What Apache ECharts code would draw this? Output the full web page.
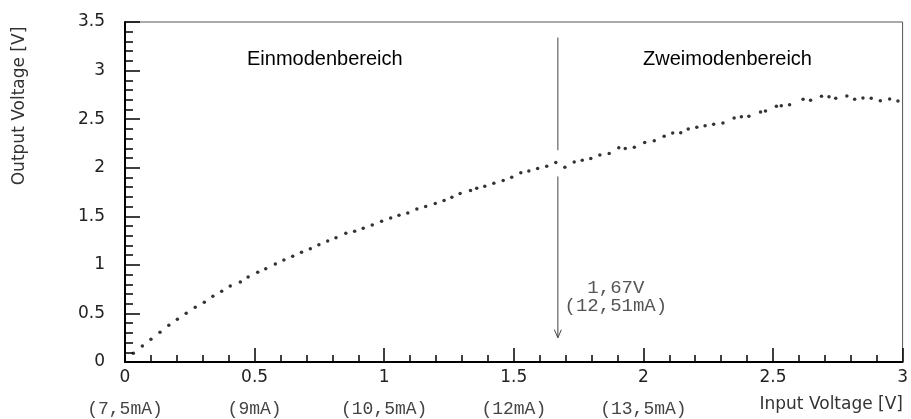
<!DOCTYPE html>
<html>
<head>
<meta charset="utf-8">
<script src="https://cdn.jsdelivr.net/npm/echarts@6/dist/echarts.min.js"></script>
<style>
  html, body { margin: 0; padding: 0; background: #ffffff; }
  #chart { width: 911px; height: 419px; }
</style>
</head>
<body>
<div id="chart"></div>
<script>
// Measured transfer curve: input voltage [V] -> output voltage [V]
const inputVoltage = [
  0.032, 0.067, 0.100, 0.135, 0.169, 0.202, 0.236, 0.271, 0.306, 0.339,
  0.373, 0.406, 0.445, 0.475, 0.512, 0.543, 0.580, 0.613, 0.647, 0.681,
  0.715, 0.748, 0.782, 0.814, 0.852, 0.886, 0.919, 0.954, 0.990, 1.025,
  1.057, 1.091, 1.126, 1.160, 1.197, 1.231, 1.261, 1.293, 1.333, 1.357,
  1.388, 1.423, 1.459, 1.492, 1.527, 1.558, 1.592, 1.627, 1.662, 1.697,
  1.733, 1.764, 1.797, 1.832, 1.868, 1.905, 1.930, 1.965, 2.005, 2.042,
  2.080, 2.113, 2.144, 2.173, 2.206, 2.238, 2.271, 2.307, 2.350, 2.378,
  2.407, 2.452, 2.471, 2.513, 2.532, 2.564, 2.616, 2.645, 2.687, 2.716,
  2.742, 2.785, 2.815, 2.847, 2.879, 2.914, 2.950, 2.982
];
const outputVoltage = [
  0.090, 0.165, 0.234, 0.306, 0.378, 0.440, 0.501, 0.563, 0.615, 0.676,
  0.728, 0.782, 0.824, 0.875, 0.923, 0.960, 1.009, 1.050, 1.088, 1.129,
  1.166, 1.208, 1.246, 1.280, 1.325, 1.346, 1.377, 1.411, 1.449, 1.483,
  1.511, 1.535, 1.576, 1.600, 1.631, 1.662, 1.697, 1.734, 1.765, 1.789,
  1.810, 1.841, 1.868, 1.903, 1.947, 1.965, 1.991, 2.016, 2.054, 2.004,
  2.059, 2.076, 2.095, 2.131, 2.146, 2.205, 2.198, 2.210, 2.260, 2.278,
  2.323, 2.357, 2.359, 2.399, 2.416, 2.432, 2.448, 2.460, 2.512, 2.525,
  2.529, 2.574, 2.584, 2.632, 2.638, 2.649, 2.704, 2.694, 2.735, 2.731,
  2.715, 2.738, 2.704, 2.718, 2.715, 2.690, 2.707, 2.687
];

// Bottom axis: voltage ticks and the matching laser current
const xTickValues = [0, 0.5, 1, 1.5, 2, 2.5, 3];
const currentLabels = ['(7,5mA)', '(9mA)', '(10,5mA)', '(12mA)', '(13,5mA)', '', ''];

// Mode boundary marker
const thresholdVoltage = 1.67;
const thresholdLabel = ['1,67V', '(12,51mA)'];
const arrowUpper = [3.34, 2.18];   // output voltage span above the curve
const arrowLower = [1.91, 0.25];   // output voltage span below the curve

const regionLabels = ['Einmodenbereich', 'Zweimodenbereich'];
const xTitle = 'Input Voltage [V]';
const yTitle = 'Output Voltage [V]';

const points = inputVoltage.map((x, i) => [x, outputVoltage[i]]);

const chart = echarts.init(document.getElementById('chart'), null, { renderer: 'canvas' });

const tickFont = 'DejaVu Sans';
const monoFont = 'Liberation Mono';

chart.setOption({
  animation: false,
  backgroundColor: '#ffffff',
  grid: {
    left: 125, right: 8, top: 22, bottom: 57,
    show: true, borderColor: '#555', borderWidth: 1, backgroundColor: 'transparent'
  },
  xAxis: {
    type: 'value', min: 0, max: 3, interval: 0.5,
    axisLine: { show: true, onZero: false, lineStyle: { color: '#000', width: 2 } },
    axisTick: { show: true, inside: true, length: 14, lineStyle: { color: '#000', width: 1.5 } },
    minorTick: { show: true, splitNumber: 5, length: 7, lineStyle: { color: '#000', width: 1.5 } },
    splitLine: { show: false },
    axisLabel: {
      margin: 0,
      showMinLabel: true, showMaxLabel: true,
      formatter: function (value) {
        const i = xTickValues.findIndex(v => Math.abs(v - value) < 1e-9);
        const cur = i >= 0 ? currentLabels[i] : '';
        return '{v|' + value + '}' + (cur ? '\n{m|' + cur + '}' : '');
      },
      rich: {
        v: { fontFamily: tickFont, fontSize: 17, color: '#222', lineHeight: 31 },
        m: { fontFamily: monoFont, fontSize: 18, color: '#444', lineHeight: 32 }
      }
    }
  },
  yAxis: {
    type: 'value', min: 0, max: 3.5, interval: 0.5,
    axisLine: { show: true, onZero: false, lineStyle: { color: '#000', width: 2 } },
    axisTick: { show: true, inside: true, length: 15, lineStyle: { color: '#000', width: 1.5 } },
    minorTick: { show: true, splitNumber: 5, length: 8, lineStyle: { color: '#000', width: 1.5 } },
    splitLine: { show: false },
    axisLabel: { margin: 20, fontFamily: tickFont, fontSize: 17, color: '#222' }
  },
  graphic: [
    {
      type: 'text', left: 247, top: 49, silent: true,
      style: { text: regionLabels[0], fontFamily: 'Liberation Sans', fontSize: 20, fill: '#000' }
    },
    {
      type: 'text', left: 643, top: 49, silent: true,
      style: { text: regionLabels[1], fontFamily: 'Liberation Sans', fontSize: 20, fill: '#000' }
    },
    {
      type: 'text', x: 903, y: 405, silent: true,
      style: { text: xTitle, fontFamily: tickFont, fontSize: 17, fill: '#333', align: 'right', verticalAlign: 'middle' }
    },
    {
      type: 'text', x: 20, y: 106, rotation: Math.PI / 2, silent: true,
      style: { text: yTitle, fontFamily: tickFont, fontSize: 17, fill: '#333', align: 'center', verticalAlign: 'middle' }
    }
  ],
  series: [
    {
      type: 'scatter',
      data: points,
      symbol: 'circle',
      symbolSize: 3.5,
      itemStyle: { color: '#000' },
      silent: true
    },
    {
      type: 'custom',
      data: [[thresholdVoltage, 0]],
      silent: true,
      clip: false,
      renderItem: function (params, api) {
        const top = api.coord([thresholdVoltage, arrowUpper[0]]);
        const gapTop = api.coord([thresholdVoltage, arrowUpper[1]]);
        const gapBottom = api.coord([thresholdVoltage, arrowLower[0]]);
        const tip = api.coord([thresholdVoltage, arrowLower[1]]);
        const style = { stroke: '#444', lineWidth: 1, fill: null };
        return {
          type: 'group',
          children: [
            { type: 'line', shape: { x1: top[0], y1: top[1], x2: gapTop[0], y2: gapTop[1] }, style: style },
            { type: 'line', shape: { x1: gapBottom[0], y1: gapBottom[1], x2: tip[0], y2: tip[1] }, style: style },
            { type: 'polyline', shape: { points: [[tip[0] - 3.5, tip[1] - 8], [tip[0], tip[1]], [tip[0] + 3.5, tip[1] - 8]] }, style: style },
            {
              type: 'text', x: tip[0] + 58, y: tip[1] - 41,
              style: {
                text: thresholdLabel.join('\n'), fontFamily: monoFont, fontSize: 19,
                lineHeight: 18, fill: '#555', align: 'center', verticalAlign: 'middle'
              }
            }
          ]
        };
      }
    }
  ]
});
</script>
</body>
</html>
